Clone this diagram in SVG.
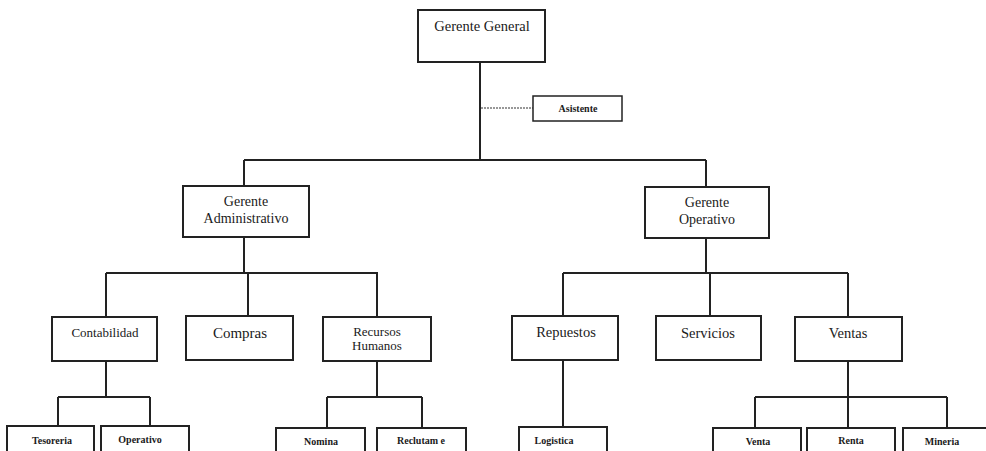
<svg xmlns="http://www.w3.org/2000/svg" width="986" height="451" viewBox="0 0 986 451">
  <style>
    .box { fill: #fff; stroke: #222; stroke-width: 2; }
    .wire { fill: none; stroke: #222; stroke-width: 2; }
    .dash { fill: none; stroke: #777; stroke-width: 1.5; stroke-dasharray: 2 1; }
    .t { font-family: "Liberation Serif", "Times New Roman", serif; fill: #1a1a1a; text-anchor: middle; }
    .m { font-size: 14px; }
    .l2 { font-size: 14px; }
    .s { font-size: 10px; font-weight: bold; }
  </style>
  <rect width="986" height="451" fill="#fff"/>

  <!-- connectors -->
  <g id="connectors">
    <path class="wire" d="M480 62 V160 M244 160 H706 M244 160 V186 M706 160 V187"/>
    <path class="dash" d="M481 108 H533"/>
    <!-- administrative branch -->
    <path class="wire" d="M244 237 V273 M106 273 H378 M106 273 V317 M248 273 V316 M377 273 V317"/>
    <path class="wire" d="M106 361 V397 M58 397 H150 M58 397 V426 M150 397 V426"/>
    <path class="wire" d="M377 361 V397 M327 397 H422 M327 397 V428 M422 397 V428"/>
    <!-- operative branch -->
    <path class="wire" d="M706 238 V273 M563 273 H848 M563 273 V316 M710 273 V316 M848 273 V317"/>
    <path class="wire" d="M563 360 V427"/>
    <path class="wire" d="M848 361 V397 M755 397 H947 M755 397 V428 M848 397 V428 M947 397 V428"/>
  </g>

  <g id="gerente-general">
    <rect class="box" x="418" y="10" width="127" height="52"/>
    <text class="t" x="482" y="31" style="font-size:14.5px">Gerente General</text>
  </g>
  <g id="asistente">
    <rect class="box" x="533" y="96" width="89" height="25" style="stroke-width:1.5"/>
    <text class="t" x="578" y="112" style="font-size:10px;font-weight:bold">Asistente</text>
  </g>

  <g id="gerente-administrativo">
    <rect class="box" x="183" y="186" width="126" height="51"/>
    <text class="t m" x="246" y="206">Gerente</text>
    <text class="t m" x="246" y="223">Administrativo</text>
  </g>
  <g id="gerente-operativo">
    <rect class="box" x="645" y="187" width="124" height="51"/>
    <text class="t m" x="707" y="207">Gerente</text>
    <text class="t m" x="707" y="224">Operativo</text>
  </g>

  <g id="contabilidad">
    <rect class="box" x="52" y="317" width="105" height="44"/>
    <text class="t" x="105" y="337" style="font-size:13px">Contabilidad</text>
  </g>
  <g id="compras">
    <rect class="box" x="186" y="316" width="107" height="44"/>
    <text class="t" x="240" y="338" style="font-size:15px">Compras</text>
  </g>
  <g id="recursos-humanos">
    <rect class="box" x="323" y="317" width="108" height="44"/>
    <text class="t" x="377" y="336" style="font-size:13px">Recursos</text>
    <text class="t" x="377" y="350" style="font-size:13px">Humanos</text>
  </g>

  <g id="repuestos">
    <rect class="box" x="512" y="316" width="106" height="44"/>
    <text class="t" x="566" y="337" style="font-size:14.5px">Repuestos</text>
  </g>
  <g id="servicios">
    <rect class="box" x="656" y="316" width="105" height="44"/>
    <text class="t" x="708" y="338" style="font-size:14.5px">Servicios</text>
  </g>
  <g id="ventas">
    <rect class="box" x="795" y="317" width="107" height="44"/>
    <text class="t" x="848" y="338" style="font-size:14.5px">Ventas</text>
  </g>

  <g id="tesoreria">
    <rect class="box" x="7" y="426" width="87" height="34"/>
    <text class="t s" x="52" y="444">Tesoreria</text>
  </g>
  <g id="operativo">
    <rect class="box" x="101" y="426" width="88" height="34"/>
    <text class="t s" x="140" y="443">Operativo</text>
  </g>
  <g id="nomina">
    <rect class="box" x="276" y="428" width="89" height="34"/>
    <text class="t s" x="321" y="445">Nomina</text>
  </g>
  <g id="reclutamiento">
    <rect class="box" x="377" y="428" width="89" height="34"/>
    <text class="t s" x="421" y="444">Reclutam e</text>
  </g>
  <g id="logistica">
    <rect class="box" x="519" y="427" width="88" height="34"/>
    <text class="t s" x="554" y="444">Logistica</text>
  </g>
  <g id="venta">
    <rect class="box" x="713" y="428" width="88" height="34"/>
    <text class="t s" x="758" y="445">Venta</text>
  </g>
  <g id="renta">
    <rect class="box" x="807" y="428" width="88" height="34"/>
    <text class="t s" x="851" y="444">Renta</text>
  </g>
  <g id="mineria">
    <rect class="box" x="903" y="428" width="90" height="34"/>
    <text class="t s" x="942" y="445">Mineria</text>
  </g>
</svg>
